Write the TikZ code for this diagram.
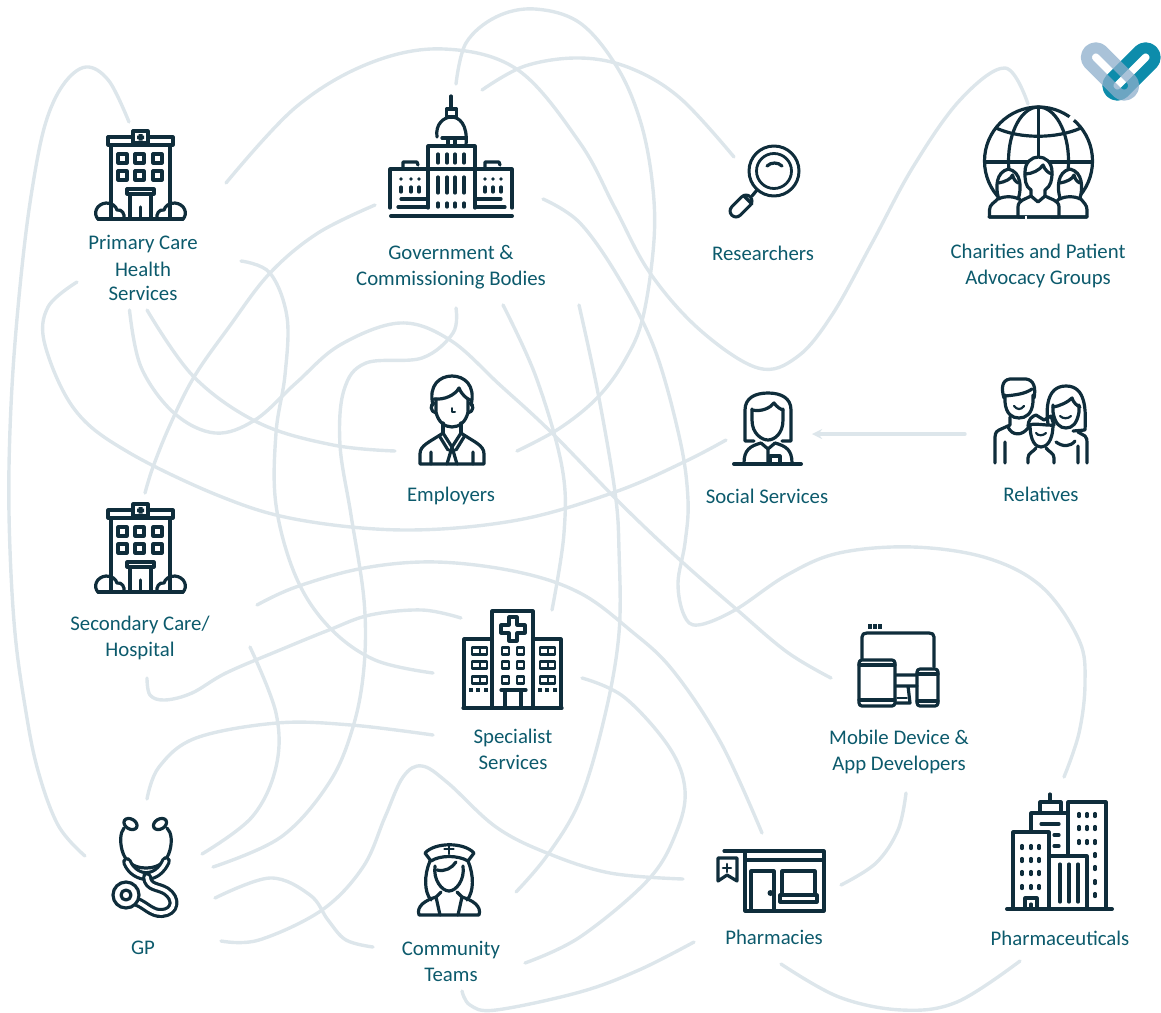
\documentclass[tikz,border=0pt]{standalone}
\usepackage{fontspec}
\setmainfont{Carlito}
\definecolor{linkgrey}{HTML}{DDE6EB}
\definecolor{icondark}{HTML}{0F2D3B}
\definecolor{labelteal}{HTML}{0C5A6C}
\definecolor{logopale}{RGB}{140,174,203}
\definecolor{logoteal}{HTML}{0D8CAB}
\tikzset{
	lbl/.style={text=labelteal,align=center,inner sep=0pt,font=\fontsize{20.8}{26}\selectfont},
	link/.style={draw=linkgrey,line width=3.4pt},
	ico/.style={draw=icondark,line width=3.2pt},
	icot/.style={draw=icondark,line width=4pt},
	logolink/.style={line width=11pt,rounded corners=9.5pt,minimum width=59pt,minimum height=19pt,inner sep=0pt},
	clinic/.pic={
		\draw[ico] (111,145)--(111,218) (170,145)--(170,218);
		\draw[ico] (108,137) rectangle (173,145);
		\draw[ico,fill=white] (133,131) rectangle (148,143);
		\fill[icondark] (138.5,134)rectangle(142.5,140.5) (137,135.5)rectangle(144,139);
		\foreach \x in {118,135,153}\foreach \y in {154,171}\draw[ico] (\x,\y) rectangle ++(9,9);
		\draw[ico] (127,189) rectangle (154,194);
		\draw[ico] (130,194)--(130,218) (151,194)--(151,218) (140.5,207)--(140.5,218);
		\draw[ico] (98,219) .. controls (93,214) and (96,204) .. (106,203) .. controls (112,203) and (116,206) .. (117,210) .. controls (122,209) and (125,214) .. (124,219) -- cycle;
		\draw[ico] (183,219) .. controls (188,214) and (185,204) .. (175,203) .. controls (169,203) and (165,206) .. (164,210) .. controls (159,209) and (156,214) .. (157,219) -- cycle;
		\draw[ico] (98,219)--(183,219);
	}
}
\begin{document}
\begin{tikzpicture}[x=1pt,y=-1pt,line join=round,line cap=round,>=stealth]
	\useasboundingbox (0,0) rectangle (1161,1012);
	% labels
	\node[lbl] (pc) at (143,268) {Primary Care\\[1pt]Health\\[-2pt]Services};
	\node[lbl] (gov) at (451,267) {Government \&\\Commissioning Bodies};
	\node[lbl] (res) at (763,253) {Researchers};
	\node[lbl] (cha) at (1038,266) {Charities and Patient\\Advocacy Groups};
	\node[lbl] (emp) at (451,496) {Employers};
	\node[lbl] (soc) at (767,496) {Social Services};
	\node[lbl] (rel) at (1041,494) {Relatives};
	\node[lbl] (sec) at (140,638) {Secondary Care/\\Hospital};
	\node[lbl] (spe) at (513,749) {Specialist\\Services};
	\node[lbl] (mob) at (899,752) {Mobile Device \&\\App Developers};
	\node[lbl] (gp) at (143,948) {GP};
	\node[lbl] (com) at (451,961) {Community\\Teams};
	\node[lbl] (pha) at (774,937) {Pharmacies};
	\node[lbl] (phc) at (1060,938) {Pharmaceuticals};
	% connector ends
	\coordinate (pcT) at (129,122); \coordinate (pcR) at (226,183); \coordinate (pcB) at (129.5,310);
	\coordinate (pcC) at (147,310); \coordinate (pcD) at (241,261); \coordinate (pcL) at (77,282);
	\coordinate (govT) at (456,84); \coordinate (govU) at (482,90); \coordinate (govL) at (375,205);
	\coordinate (govB) at (456,308); \coordinate (govC) at (503,305); \coordinate (govD) at (579,305);
	\coordinate (govR) at (543,199); \coordinate (resL) at (734,157); \coordinate (chaT) at (1028,104);
	\coordinate (empL) at (395,451); \coordinate (empR) at (517,451); \coordinate (socL) at (726,440);
	\coordinate (socR) at (812,434); \coordinate (relL) at (965,434); \coordinate (secT) at (145,493);
	\coordinate (secR) at (257,605); \coordinate (secB) at (147,678); \coordinate (secD) at (250,647);
	\coordinate (speT) at (552,610); \coordinate (speL) at (461,618); \coordinate (speM) at (433,673);
	\coordinate (speN) at (433,735); \coordinate (speR) at (582,678); \coordinate (mobL) at (831,678);
	\coordinate (mobB) at (906,793); \coordinate (gpL) at (85,856); \coordinate (gpT) at (147,799);
	\coordinate (gpR) at (202,854); \coordinate (gpS) at (213,867); \coordinate (gpU) at (215,898);
	\coordinate (gpV) at (221,941); \coordinate (comL) at (373,947); \coordinate (comR) at (516,892);
	\coordinate (comS) at (525,963); \coordinate (comB) at (462,991); \coordinate (phaT) at (762,833);
	\coordinate (phaL) at (683,879); \coordinate (phaD) at (694,942); \coordinate (phaB) at (781,964);
	\coordinate (phaR) at (841,885); \coordinate (phcT) at (1064,777); \coordinate (phcB) at (1020,961);
	% connectors
	\draw[link] plot[smooth,tension=.6] coordinates {(pcT) (109,81) (86,67) (63,85) (45,125) (32,190) (22,267) (13,370) (9,467) (10,550) (15,633) (24,700) (37,767) (58,825) (gpL)};
	\draw[link] plot[smooth,tension=.6] coordinates {(pcR) (296,107) (370,63) (444,49) (518,70) (580,143) (615,208) (650,273) (700,330) (758,368) (797,357) (832,315) (872,243) (913,167) (960,100) (1005,68) (chaT)};
	\draw[link] plot[smooth,tension=.6] coordinates {(govT) (466,43) (496,17) (535,9) (580,23) (617,67) (640,120) (652,180) (654,240) (643,317) (625,360) (598,397) (560,428) (empR)};
	\draw[link] plot[smooth,tension=.6] coordinates {(govU) (525,66) (580,58) (630,68) (680,98) (resL)};
	\draw[link] plot[smooth,tension=.6] coordinates {(govL) (318,233) (270,273) (229,327) (194,377) (170,425) (153,467) (secT)};
	\draw[link] plot[smooth,tension=.6] coordinates {(pcB) (141,367) (174,413) (215,433) (255,420) (296,383) (340,345) (400,323) (450,340) (500,385) (551,432) (622,505) (680,560) (735,608) (787,652) (mobL)};
	\draw[link] plot[smooth,tension=.6] coordinates {(pcC) (194,377) (259,423) (333,445) (empL)};
	\draw[link] plot[smooth,tension=.6] coordinates {(pcD) (270,273) (287,317) (285,375) (276,433) (276,505) (296,577) (329,627) (375,660) (speM)};
	\draw[link] plot[smooth,tension=.6] coordinates {(pcL) (48,307) (45,345) (75,410) (128,452) (222,497) (300,520) (407,530) (518,520) (615,492) (684,462) (socL)};
	\draw[link] plot[smooth,tension=.6] coordinates {(govB) (453,333) (422,358) (366,363) (344,390) (340,445) (351,515) (364,600) (364,667) (353,727) (329,783) (281,837) (gpS)};
	\draw[link] plot[smooth,tension=.6] coordinates {(govR) (580,223) (620,280) (655,350) (680,440) (688,500) (685,543) (678,583) (684,615) (698,625) (735,610) (787,575) (839,553) (913,547) (987,558) (1042,587) (1079,640) (1085,683) (1079,733) (phcT)};
	\draw[link] plot[smooth,tension=.6] coordinates {(govC) (536,377) (562,467) (564,533) (speT)};
	\draw[link] plot[smooth,tension=.6] coordinates {(govD) (598,393) (615,492) (619,550) (619,633) (605,715) (580,800) (547.5,855) (comR)};
	\draw[link] plot[smooth,tension=.6] coordinates {(secR) (296,587) (364,568) (437,562) (518,572) (580,593) (630,630) (672.5,670) (721,743) (phaT)};
	\draw[link] plot[smooth,tension=.6] coordinates {(secB) (150,695) (165,700) (192,693) (226,673) (280,650) (329,630) (370,615) (422,610) (speL)};
	\draw[link] plot[smooth,tension=.6] coordinates {(secD) (276,713) (276,767) (252,817) (gpR)};
	\draw[link] plot[smooth,tension=.6] coordinates {(gpT) (159,767) (196,738) (277,723) (351,725) (speN)};
	\draw[link] plot[smooth,tension=.6] coordinates {(gpU) (270,878) (310,895) (328,920) (346,940) (comL)};
	\draw[link] plot[smooth,tension=.6] coordinates {(gpV) (259,940) (322,910) (363,867) (385,817) (403,777) (422,766) (448,783) (496,827) (547,853) (610,873) (phaL)};
	\draw[link] plot[smooth,tension=.6] coordinates {(speR) (624,697) (669,747) (685,790) (676,833) (648,880) (580,937) (comS)};
	\draw[link] plot[smooth,tension=.6] coordinates {(comB) (470,1005) (496,1010) (580,992) (639,970) (phaD)};
	\draw[link] plot[smooth,tension=.6] coordinates {(phaB) (839,997) (902,1010) (957,1002) (phcB)};
	\draw[link] plot[smooth,tension=.6] coordinates {(phaR) (876,863) (898,830) (mobB)};
	\draw[link,->] (relL)--(socR);
	% clinics
	\pic at (0,0) {clinic};
	\pic at (0,373) {clinic};
	% government
	\draw[ico] (451,96)--(451,108);
	\draw[ico] (446.5,109) rectangle (456.5,117);
	\draw[ico] (437,137) .. controls (435,124) and (444,117) .. (451.5,117) .. controls (459,117) and (468,124) .. (466,145);
	\draw[ico] (442,138)--(466,138) (448,138)--(448,145) (455,138)--(455,145);
	\draw[ico] (428,208)--(428,146)--(475,146)--(475,208) (390,208)--(390,169)--(512,169)--(512,208);
	\foreach \x in {438,447,455,464}{\draw[ico] (\x,154)--(\x,163);\draw[ico] (\x,177)--(\x,193);\draw[ico] (\x,203)--(\x,207);}
	\draw[ico] (403,168)--(403,162)--(417,162)--(418,165) (485,168)--(485,162)--(499,162)--(500,165);
	\foreach \x in {401,411,419,485,493,501}{\fill[icondark] (\x,179) circle (1.8);\draw[ico] (\x,187)--(\x,192);}
	\draw[ico] (401,199)--(427,199) (476,199)--(501,199) (398,207)--(428,207) (475,207)--(505,207);
	\draw[icot] (391,216)--(512,216);
	% researchers
	\draw[ico,line width=3pt] (774,171) circle (25);
	\draw[ico,line width=2.8pt] (774,171) circle (17.5);
	\draw[ico] (767,166) .. controls (771,162) and (778,162) .. (782,166);
	\draw[ico] (752,196)--(757,190);
	\draw[icondark,line width=15pt] (736,211)--(746,201);
	\draw[white,line width=8.8pt] (736,211)--(746,201);
	\draw[ico] (744,196)--(752,204);
	% charities
	\draw[ico] (1038.5,161) circle (54);
	\draw[white,line width=5pt,line cap=butt] (1069.5,117)--(1073.5,120.5);
	\draw[ico] (1038.5,161) ellipse (30 and 54);
	\draw[ico] (1038.5,108)--(1038.5,160) (985,162)--(1092,162);
	\draw[ico] (996,128) .. controls (1020,139) and (1056,139) .. (1081,128);
	\foreach \x in {1008.5,1070}{
		\draw[ico,fill=white] (\x-10,198) .. controls (\x-13,188) and (\x-13,172) .. (\x,169) .. controls (\x+13,172) and (\x+13,188) .. (\x+10,198) .. controls (\x+14,203) and (\x+17,205) .. (\x+17,210) -- (\x+17,217) -- (\x-19,217) -- (\x-19,210) .. controls (\x-19,204) and (\x-14,203) .. (\x-10,198) -- cycle;
		\draw[ico] (\x-10,183) .. controls (\x-4,182) and (\x+3,179) .. (\x+4,175) .. controls (\x+5,179) and (\x+7,182) .. (\x+10,183);
		\draw[ico] (\x-10,199) .. controls (\x-5,196) and (\x+5,196) .. (\x+10,199);
	}
	\draw[ico,fill=white] (1018,217) -- (1018,207) .. controls (1018,200) and (1026,199) .. (1031,196) -- (1031,190) .. controls (1025,186) and (1025,180) .. (1025,172) .. controls (1025,152) and (1052,152) .. (1052,172) .. controls (1052,180) and (1051,186) .. (1045,190) -- (1045,196) .. controls (1050,199) and (1059,200) .. (1059,207) -- (1059,217) -- cycle;
	\draw[ico] (1025,174) .. controls (1032,174) and (1040,170) .. (1043,165) .. controls (1045,170) and (1048,173) .. (1052,174);
	\draw[ico] (1031,196)--(1038,202)--(1045,196) (989,217)--(1087,217);
	\draw[white,line width=2pt,line cap=butt] (1026,215.5)--(1026,218.5);
	% employers
	\draw[ico] (433,405) .. controls (428,385) and (440,376) .. (452,376) .. controls (464,376) and (476,385) .. (471,405);
	\draw[ico] (434,399) .. controls (445,400) and (455,395) .. (459,388) .. controls (462,395) and (466,398) .. (470,400);
	\draw[ico] (436,399)--(436,412) .. controls (438,422) and (445,427) .. (452,427) .. controls (459,427) and (466,422) .. (468,412)--(468,399);
	\draw[ico] (434,403) .. controls (430,404) and (430,412) .. (436,413) (470,403) .. controls (474,404) and (474,412) .. (468,413);
	\draw[ico,line width=2pt] (452,408)--(452,412)--(455,412);
	\draw[ico] (443,423)--(443,433) (461,423)--(461,433);
	\draw[ico] (420,464)--(420,454) .. controls (420,445) and (430,442) .. (443,433)--(452,447)--(461,433) .. controls (474,442) and (484,445) .. (484,454)--(484,464)--cycle;
	\draw[ico] (452,447)--(447,464) (452,447)--(457,464) (431,452)--(431,464) (473,452)--(473,464) (440,437)--(448,450) (464,437)--(456,450);
	% social services
	\draw[ico] (745,441)--(745,410) .. controls (745,398) and (755,393) .. (768,393) .. controls (781,393) and (791,398) .. (791,410)--(791,441)--(782,441) (745,441)--(754,441);
	\draw[ico] (752,409)--(752,420) .. controls (752,434) and (762,440) .. (768,440) .. controls (774,440) and (783,434) .. (783,420)--(783,409);
	\draw[ico] (752,410) .. controls (762,412) and (770,408) .. (774,403) .. controls (777,407) and (780,409) .. (783,410);
	\draw[ico] (744,463) .. controls (744,450) and (750,446) .. (761,443) (792,463) .. controls (792,450) and (786,446) .. (775,443);
	\draw[ico] (761,443)--(768,449)--(775,443) (768,449)--(768,463);
	\draw[ico] (770,463)--(770,456)--(780,456)--(780,463);
	\draw[icot] (734,464)--(801,464);
	% relatives
	\draw[ico] (1004,398) .. controls (1001,388) and (1002,380) .. (1010,379)--(1026,379) .. controls (1034,380) and (1036,388) .. (1034,398);
	\draw[ico] (1005,395)--(1005,402) .. controls (1006,414) and (1012,418) .. (1019,418) .. controls (1026,418) and (1032,414) .. (1033,402)--(1033,395);
	\draw[ico] (1005,396) .. controls (1015,395) and (1025,394) .. (1032,389);
	\draw[ico,line width=2.2pt] (1014,406) .. controls (1017,410) and (1021,410) .. (1024,406);
	\draw[ico] (1010,417)--(1010,425)--(999,430) .. controls (995,432) and (995,435) .. (995,440)--(995,463) (1005,442)--(1005,463);
	\draw[ico] (1008,427) .. controls (1012,436) and (1022,436) .. (1028,428);
	\draw[ico] (1048,424) .. controls (1046,410) and (1046,386) .. (1066,386) .. controls (1086,386) and (1086,410) .. (1085,430)--(1073,431);
	\draw[ico] (1053,407) .. controls (1060,406) and (1068,402) .. (1072,398) .. controls (1073,402) and (1077,406) .. (1080,407);
	\draw[ico] (1053,405)--(1053,412) .. controls (1055,424) and (1060,428) .. (1066,428) .. controls (1072,428) and (1077,424) .. (1079,412)--(1079,405);
	\draw[ico,line width=2.2pt] (1060,416) .. controls (1063,419) and (1068,419) .. (1071,416);
	\draw[ico] (1056,442) .. controls (1063,447) and (1070,447) .. (1075,441) (1078,432)--(1085,436) .. controls (1087,438) and (1087,440) .. (1087,443)--(1087,463) (1078,446)--(1078,463);
	\draw[ico] (1030,424) .. controls (1030,442) and (1036,447) .. (1041,447) .. controls (1046,447) and (1053,442) .. (1053,424) (1028,426) .. controls (1032,422) and (1046,426) .. (1054,425)--(1051,416)--(1044,420)--(1036,415) .. controls (1032,416) and (1028,420) .. (1028,426);
	\draw[ico,line width=2.2pt] (1036,433) .. controls (1038,436) and (1043,436) .. (1046,433);
	\draw[ico] (1028,463)--(1028,458) .. controls (1028,453) and (1033,452) .. (1036,448) (1054,463)--(1054,458) .. controls (1054,453) and (1049,452) .. (1046,448);
	% specialist
	\draw[ico] (463,708) rectangle (562,708) (464,708)--(464,639)--(492,639) (561,708)--(561,639)--(533,639) (492,708)--(492,611)--(533,611)--(533,708);
	\draw[ico] (509,617)--(517,617)--(517,625)--(525,625)--(525,633)--(517,633)--(517,641)--(509,641)--(509,633)--(501,633)--(501,625)--(509,625)--cycle;
	\foreach \y in {651,665,680}{
		\foreach \x in {472,540}{\draw[ico,line width=2.6pt] (\x,\y-3.5) rectangle ++(15,7);\draw[ico,line width=2pt] (\x+7.5,\y-3.5)--(\x+7.5,\y+3.5);}
		\foreach \x in {502,517}{\draw[ico,line width=2.6pt] (\x,\y-3.5) rectangle ++(7,7);}
	}
	\foreach \x in {471,478,486,540,547,555}\fill[icondark] (\x-2,688) rectangle ++(3.5,4);
	\draw[ico] (501,690)--(526,690) (505,690)--(505,708) (521,690)--(521,708);
	% mobile
	\draw[ico] (862,659)--(862,637) .. controls (862,634) and (864,633) .. (867,633)--(929,633) .. controls (932,633) and (934,634) .. (934,637)--(934,667);
	\draw[ico,rounded corners=3pt] (859,660) rectangle (895,706);
	\draw[ico] (859,665)--(895,665) (859,700)--(895,700);
	\draw[ico,rounded corners=3pt] (917,669) rectangle (938,706);
	\draw[ico] (917,674)--(938,674) (917,701)--(938,701);
	\draw[ico] (896,675)--(917,675) (896,686)--(917,686) (908,686)--(910,703)--(896,703);
	\draw[ico,line width=1.6pt] (897,698)--(907,698);
	\foreach \x in {868,873,878}\fill[icondark] (\x,623.5) rectangle ++(4,5);
	% gp
	\draw[ico,fill=white,rotate around={-30:(130.5,824)}] (130.5,824) ellipse (7 and 5);
	\draw[ico,fill=white,rotate around={30:(160,824)}] (160,824) ellipse (7 and 5);
	\draw[ico] (124,828) .. controls (120,833) and (120,842) .. (122,850) .. controls (125,862) and (134,868) .. (146,868) .. controls (158,868) and (167,862) .. (170,850) .. controls (172,842) and (172,833) .. (167,828);
	\draw[ico,double=white,double distance=3.4pt] (127,862) .. controls (131,872) and (140,876) .. (146,876) .. controls (155,876) and (162,870) .. (166,861);
	\draw[ico,double=white,double distance=3.6pt] (147,877) .. controls (148,888) and (158,886) .. (166,891) .. controls (177,898) and (176,912) .. (162,913) .. controls (152,914) and (144,904) .. (137,902);
	\draw[ico,fill=white] (126,895) circle (13);
	\draw[ico] (126,895) circle (5);
	% nurse
	\draw[ico] (430,861) .. controls (424,875) and (424,892) .. (431,900) (468,861) .. controls (474,875) and (474,892) .. (467,900);
	\draw[ico] (435,866) .. controls (433,880) and (442,891) .. (449,891) .. controls (456,891) and (465,880) .. (463,866);
	\draw[ico] (437,870) .. controls (445,872) and (452,868) .. (456,862);
	\draw[ico] (425,853) .. controls (435,842) and (464,842) .. (474,853)--(468,861) .. controls (458,855) and (440,855) .. (431,861)--cycle;
	\draw[ico,line width=2.6pt] (449,844)--(449,854) (444.5,849)--(453.5,849);
	\draw[ico] (419,915) .. controls (416,906) and (426,900) .. (436,897)--(441,892) (479,915) .. controls (482,906) and (472,900) .. (462,897)--(457,892) (419,915)--(479,915);
	\draw[ico] (436,897)--(440,915) (462,897)--(458,915);
	% pharmacies
	\draw[ico] (724,851)--(824,851)--(824,911)--(745,911)--(745,860)--(824,860) (745,851)--(745,860);
	\draw[ico] (751,911)--(751,871)--(774,871)--(774,911);
	\fill[icondark] (770.5,893) circle (3);
	\draw[ico] (782,895)--(782,871)--(815,871)--(815,895);
	\draw[ico] (780,895) rectangle (817,902);
	\draw[ico] (718,858)--(737,858)--(737,881)--(727,875)--(718,881)--cycle;
	\draw[ico,line width=2.6pt] (727,864)--(727,872) (723,868)--(731,868);
	% pharmaceuticals
	\draw[icot] (1007,909)--(1112,909);
	\draw[ico] (1013,909)--(1013,832)--(1049,832)--(1049,909);
	\draw[ico] (1031,832)--(1031,813)--(1067,813);
	\draw[ico] (1040,813)--(1040,802)--(1061,802)--(1061,813) (1050,794)--(1050,802);
	\draw[ico] (1068,856)--(1068,802)--(1106,802)--(1106,909);
	\draw[ico] (1050,856)--(1087,856)--(1087,909);
	\foreach \x in {1060,1069,1078}\draw[ico] (\x,864)--(\x,902);
	\draw[ico] (1041,824)--(1059,824) (1054,835)--(1059,835) (1054,846)--(1059,846);
	\foreach \x in {1022,1031,1039}\foreach \y in {847,860,873,887}\draw[ico] (\x,\y-1.5)--(\x,\y+1.5);
	\foreach \x in {1079,1087,1095}\foreach \y in {815,828,842}\draw[ico] (\x,\y-1.5)--(\x,\y+1.5);
	\foreach \y in {855,868,882,895}\draw[ico] (1095,\y-1.5)--(1095,\y+1.5);
	\draw[ico] (1025,909)--(1025,898)--(1037,898)--(1037,909) (1031,904)--(1031,909);
	% logo
	\node[logolink,draw=logoteal,rotate=45] (logob) at (1131.5,71.5) {};
	\node[logolink,draw=logopale,draw opacity=.75,rotate=-45] (logoa) at (1110,71.5) {};
\end{tikzpicture}
\end{document}
